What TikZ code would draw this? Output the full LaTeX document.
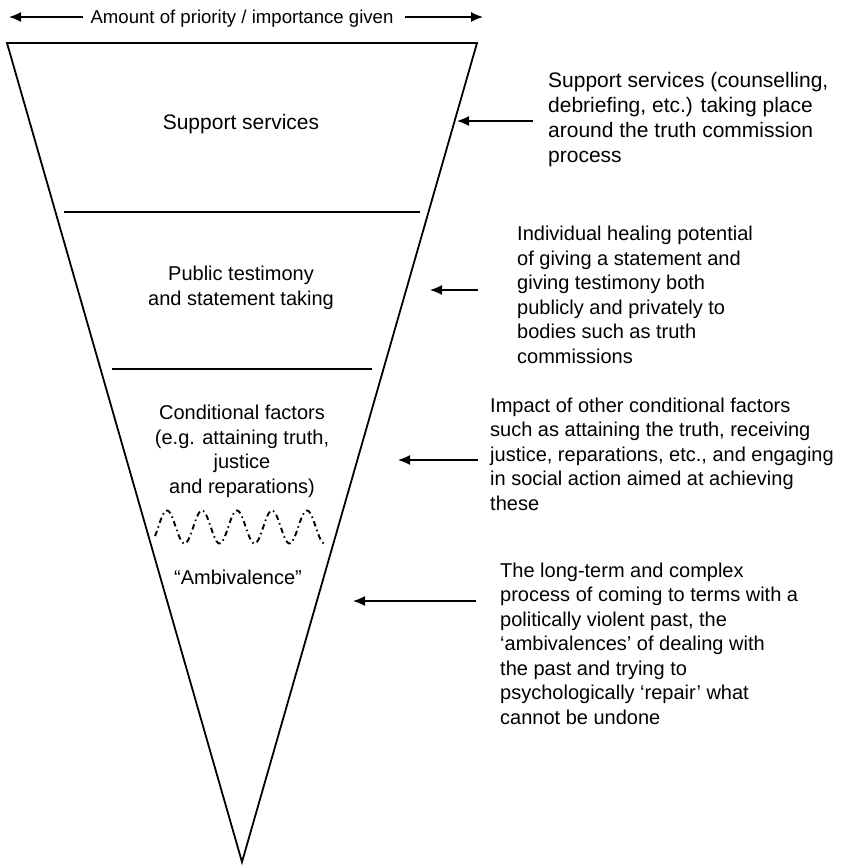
\documentclass[tikz,border=0pt]{standalone}
\usepackage{fontspec}
\setmainfont{Liberation Sans}
\usetikzlibrary{arrows.meta}
\begin{document}
\begin{tikzpicture}[x=1pt,y=-1pt,
  edge/.style={line width=1.8pt, line join=miter},
  sep/.style={line width=1.8pt},
  arr/.style={line width=1.2pt, -{Latex[length=12pt,width=10pt]}},
  wave/.style={line width=1.9pt, dash pattern=on 5.5pt off 3.5pt on 1.5pt off 3.5pt},
  lbl/.style={inner sep=0pt, font=\fontsize{20}{24.5}\selectfont},
  inlbl/.style={lbl, align=center, anchor=base},
  rlbl/.style={lbl, align=left, anchor=base west}]
\useasboundingbox (0,0) rectangle (851,866);
% title with double arrow (base anchor = last line baseline)
\node[lbl, anchor=base, font=\fontsize{18.6}{22}\selectfont] (title) at (242,24) {Amount of priority / importance given};
\coordinate (tL0) at (83,17); \coordinate (tL1) at (9,17);
\coordinate (tR0) at (405,17); \coordinate (tR1) at (483,17);
\draw[arr] (tL0) -- (tL1);
\draw[arr] (tR0) -- (tR1);
% funnel
\coordinate (A) at (7,43); \coordinate (B) at (477,43); \coordinate (C) at (242,862);
\draw[edge] (A) -- (B) -- (C) -- cycle;
\coordinate (l1a) at (64,212); \coordinate (l1b) at (420,212);
\coordinate (l2a) at (112,369); \coordinate (l2b) at (372,369);
\draw[sep] (l1a) -- (l1b);
\draw[sep] (l2a) -- (l2b);
% wave
\draw[wave] plot[domain=155:326, samples=160, smooth] (\x, {527-16.5*cos((\x-167)/35*360)});
% inner labels (anchored at the baseline of their last line)
\node[inlbl, font=\fontsize{21}{24.5}\selectfont] (s1) at (241,130) {Support services};
\node[inlbl] (s2) at (241,305) {Public testimony\\and statement taking};
\node[inlbl] (s3) at (242,493) {Conditional factors\\(e.g. attaining truth,\\justice\\and reparations)};
\node[inlbl] (s4) at (238,584) {“Ambivalence”};
% right labels (anchored at the baseline of their last line)
\node[rlbl, font=\fontsize{21}{25}\selectfont] (r1) at (548,163) {Support services (counselling,\\debriefing, etc.) taking place\\around the truth commission\\process};
\node[rlbl] (r2) at (517,363) {Individual healing potential\\of giving a statement and\\giving testimony both\\publicly and privately to\\bodies such as truth\\commissions};
\node[rlbl] (r3) at (490,510) {Impact of other conditional factors\\such as attaining the truth, receiving\\justice, reparations, etc., and engaging\\in social action aimed at achieving\\these};
\node[rlbl] (r4) at (500,724) {The long-term and complex\\process of coming to terms with a\\politically violent past, the\\‘ambivalences’ of dealing with\\the past and trying to\\psychologically ‘repair’ what\\cannot be undone};
% arrows
\coordinate (a1s) at (533,121); \coordinate (a1t) at (457,121);
\coordinate (a2s) at (478,290); \coordinate (a2t) at (430,290);
\coordinate (a3s) at (478,460); \coordinate (a3t) at (398,460);
\coordinate (a4s) at (476,601); \coordinate (a4t) at (353,601);
\draw[arr] (a1s) -- (a1t);
\draw[arr] (a2s) -- (a2t);
\draw[arr] (a3s) -- (a3t);
\draw[arr] (a4s) -- (a4t);
\end{tikzpicture}
\end{document}
